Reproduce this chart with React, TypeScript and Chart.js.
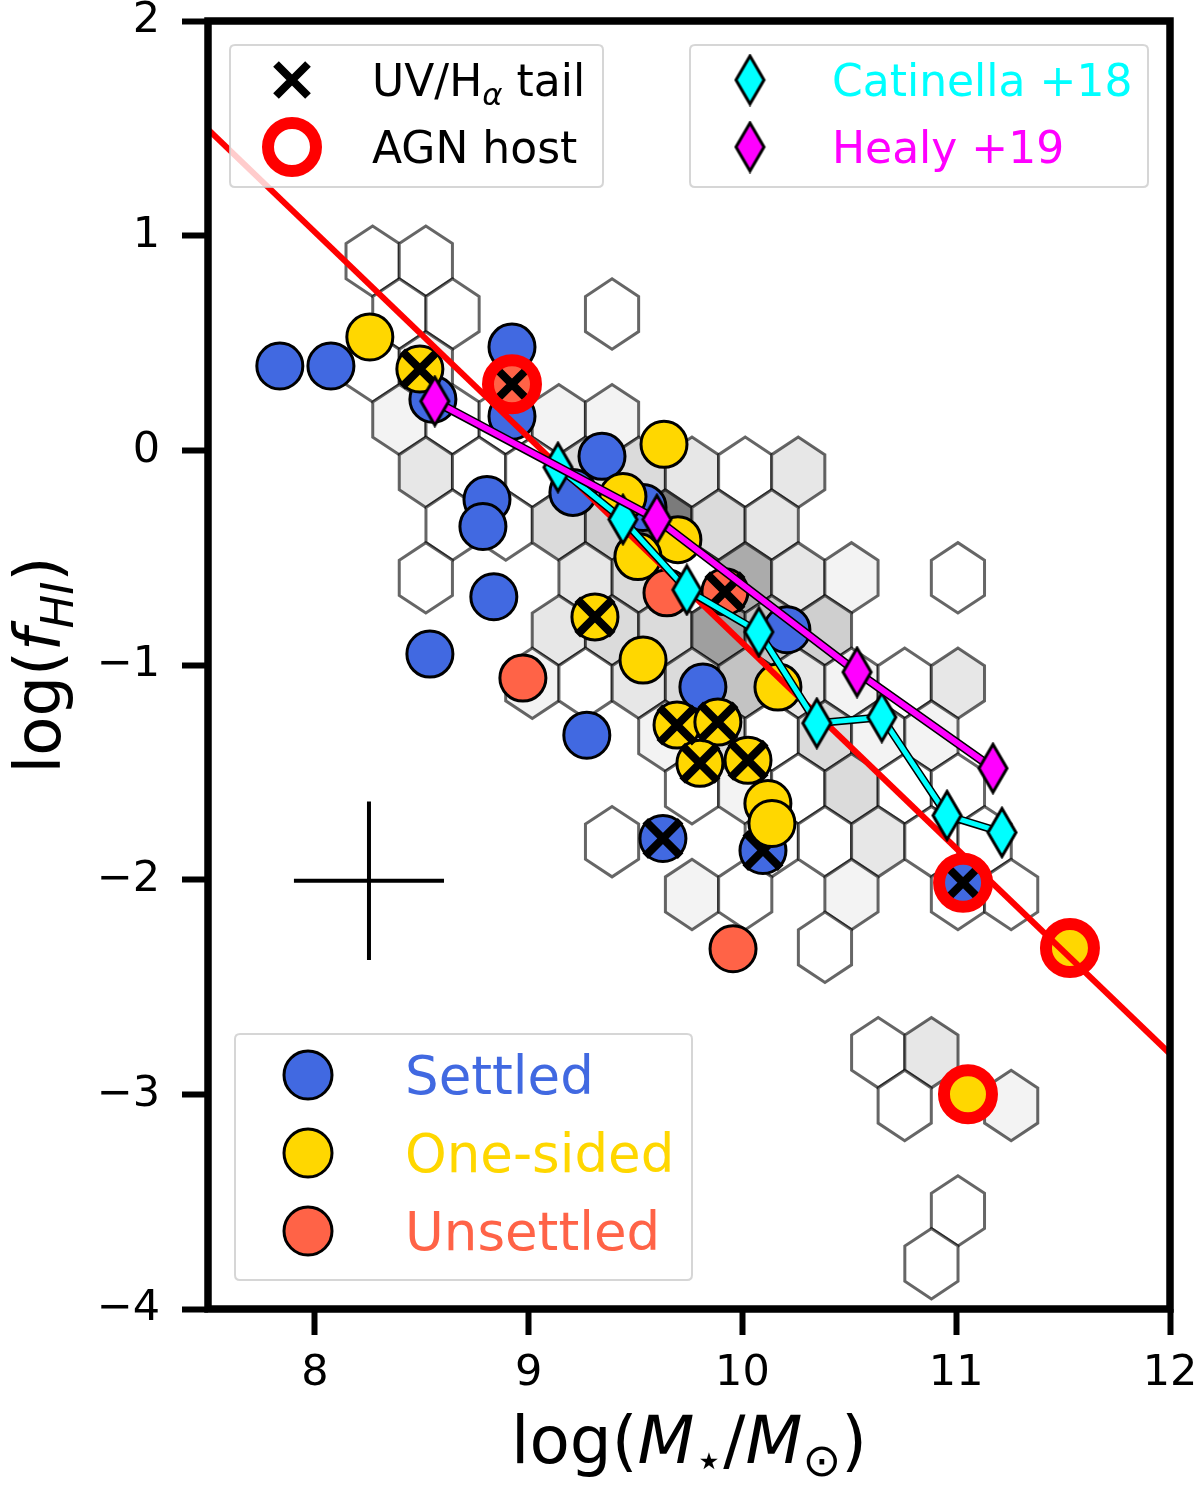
import React, { useEffect, useRef } from "react";
import { Chart, registerables } from "chart.js";
Chart.register(...registerables);

const FONT = '"DejaVu Sans", "Liberation Sans", sans-serif';

// axes
const xMin = 7.5;
const xMax = 12;
const yMin = -4;
const yMax = 2;
const xTickValues = [8, 9, 10, 11, 12];
const yTickValues = [-4, -3, -2, -1, 0, 1, 2];

// hexbin background (bin centres and counts)
const hexHalfWidth = 0.1244;
const hexRowStep = 0.2458;
const hexX = [
  8.270, 8.519,
  8.395, 8.644, 9.390,
  8.270, 8.519,
  8.395, 8.644, 8.893, 9.141, 9.390,
  8.519, 8.768, 9.017, 9.266, 9.515, 9.764, 10.013, 10.261,
  8.644, 8.893, 9.141, 9.390, 9.639, 9.888, 10.137,
  8.519, 9.266, 9.515, 9.764, 10.013, 10.261, 10.510, 11.008,
  9.141, 9.390, 9.639, 9.888, 10.137, 10.386,
  9.017, 9.266, 9.515, 9.764, 10.013, 10.261, 10.510, 10.759, 11.008,
  9.639, 9.888, 10.137, 10.386, 10.635, 10.884,
  9.764, 10.013, 10.261, 10.510, 10.759, 11.008,
  9.390, 10.137, 10.386, 10.635, 10.884, 11.133,
  9.764, 10.013, 10.510, 11.008, 11.257,
  10.386,
  10.635, 10.884,
  10.759, 11.257,
  11.008,
  10.884,
];
const hexY = [
  0.881, 0.881,
  0.635, 0.635, 0.635,
  0.389, 0.389,
  0.143, 0.143, 0.143, 0.143, 0.143,
  -0.102, -0.102, -0.102, -0.102, -0.102, -0.102, -0.102, -0.102,
  -0.348, -0.348, -0.348, -0.348, -0.348, -0.348, -0.348,
  -0.594, -0.594, -0.594, -0.594, -0.594, -0.594, -0.594, -0.594,
  -0.840, -0.840, -0.840, -0.840, -0.840, -0.840,
  -1.085, -1.085, -1.085, -1.085, -1.085, -1.085, -1.085, -1.085, -1.085,
  -1.331, -1.331, -1.331, -1.331, -1.331, -1.331,
  -1.577, -1.577, -1.577, -1.577, -1.577, -1.577,
  -1.823, -1.823, -1.823, -1.823, -1.823, -1.823,
  -2.069, -2.069, -2.069, -2.069, -2.069,
  -2.315,
  -2.806, -2.806,
  -3.052, -3.052,
  -3.543,
  -3.789,
];
const hexCount = [
  1, 1,
  1, 1, 1,
  1, 2,
  2, 1, 1, 2, 2,
  3, 1, 1, 4, 4, 3, 1, 3,
  1, 1, 4, 5, 12, 4, 3,
  1, 3, 4, 1, 8, 3, 2, 1,
  3, 4, 4, 9, 6, 5,
  2, 1, 3, 4, 6, 3, 2, 1, 3,
  2, 4, 1, 4, 2, 2,
  1, 2, 1, 4, 1, 1,
  1, 1, 1, 3, 1, 1,
  2, 1, 2, 1, 1,
  1,
  1, 3,
  1, 2,
  1,
  1,
];

// Settled galaxies
const settledX = [7.836, 8.075, 8.552, 8.922, 8.922, 8.805, 8.786, 8.837, 8.538, 9.343, 9.207, 9.272, 9.815, 10.208, 9.535, 9.628, 10.096, 11.032];
const settledY = [0.393, 0.393, 0.238, 0.481, 0.159, -0.229, -0.355, -0.682, -0.949, -0.028, -0.196, -1.327, -1.103, -0.836, -0.266, -1.808, -1.864, -2.014];
const settledTail = [0, 0, 0, 0, 0, 0, 0, 0, 0, 0, 0, 0, 0, 0, 0, 1, 1, 1];
const settledAGN = [0, 0, 0, 0, 0, 0, 0, 0, 0, 0, 0, 0, 0, 0, 0, 0, 0, 1];

// One-sided galaxies
const oneSidedX = [8.257, 8.491, 9.633, 9.441, 9.698, 9.511, 9.310, 9.535, 10.166, 9.694, 9.885, 9.801, 10.026, 10.119, 10.138, 11.532, 11.055];
const oneSidedY = [0.528, 0.379, 0.028, -0.215, -0.416, -0.495, -0.776, -0.977, -1.103, -1.280, -1.266, -1.458, -1.444, -1.645, -1.738, -2.318, -3.0];
const oneSidedTail = [0, 1, 0, 0, 0, 0, 1, 0, 0, 1, 1, 1, 1, 0, 0, 0, 0];
const oneSidedAGN = [0, 0, 0, 0, 0, 0, 0, 0, 0, 0, 0, 0, 0, 0, 0, 1, 1];

// Unsettled galaxies
const unsettledX = [8.922, 9.647, 9.918, 8.973, 9.956];
const unsettledY = [0.308, -0.664, -0.659, -1.061, -2.322];
const unsettledTail = [1, 0, 1, 0, 0];
const unsettledAGN = [1, 0, 0, 0, 0];

// scaling relations
const catinellaX = [9.137, 9.441, 9.740, 10.077, 10.348, 10.652, 10.957, 11.214];
const catinellaY = [-0.079, -0.322, -0.650, -0.846, -1.271, -1.243, -1.701, -1.780];
const healyX = [8.561, 9.600, 10.536, 11.172];
const healyY = [0.229, -0.322, -1.033, -1.481];

// fit line
const fitX = [7.5, 12];
const fitY = [1.495, -2.811];

// typical error bar
const errX = 8.253;
const errY = -2.005;
const errDX = 0.351;
const errDY = 0.369;

const BLUE = "#4169E1";
const GOLD = "#FFD700";
const TOMATO = "#FF6347";
const CYAN = "#00FFFF";
const MAGENTA = "#FF00FF";

type Seg = { t: string; it?: boolean; sub?: boolean };

function drawRich(ctx: CanvasRenderingContext2D, segs: Seg[], x: number, y: number, size: number, color: string, align: "left" | "center") {
  const fontFor = (s: Seg) => `${s.it ? "italic " : ""}${s.sub ? size * 0.7 : size}px ${FONT}`;
  let total = 0;
  const widths = segs.map((s) => {
    ctx.font = fontFor(s);
    const w = ctx.measureText(s.t).width;
    total += w;
    return w;
  });
  let cx = align === "center" ? x - total / 2 : x;
  ctx.fillStyle = color;
  ctx.textAlign = "left";
  ctx.textBaseline = "alphabetic";
  segs.forEach((s, i) => {
    ctx.font = fontFor(s);
    ctx.fillText(s.t, cx, y + (s.sub ? size * 0.2 : 0));
    cx += widths[i];
  });
}

function makeDiamond(fill: string): HTMLCanvasElement {
  const hw = 14, hh = 24, lw = 3;
  const c = document.createElement("canvas");
  c.width = Math.ceil(2 * hw + lw + 2);
  c.height = Math.ceil(2 * hh + lw + 2);
  const g = c.getContext("2d")!;
  const cx = c.width / 2, cy = c.height / 2;
  g.beginPath();
  g.moveTo(cx, cy - hh);
  g.lineTo(cx + hw, cy);
  g.lineTo(cx, cy + hh);
  g.lineTo(cx - hw, cy);
  g.closePath();
  g.fillStyle = fill;
  g.fill();
  g.lineWidth = lw;
  g.lineJoin = "miter";
  g.strokeStyle = "#000";
  g.stroke();
  return c;
}

function roundRect(ctx: CanvasRenderingContext2D, x: number, y: number, w: number, h: number, r: number) {
  ctx.beginPath();
  ctx.moveTo(x + r, y);
  ctx.lineTo(x + w - r, y);
  ctx.quadraticCurveTo(x + w, y, x + w, y + r);
  ctx.lineTo(x + w, y + h - r);
  ctx.quadraticCurveTo(x + w, y + h, x + w - r, y + h);
  ctx.lineTo(x + r, y + h);
  ctx.quadraticCurveTo(x, y + h, x, y + h - r);
  ctx.lineTo(x, y + r);
  ctx.quadraticCurveTo(x, y, x + r, y);
  ctx.closePath();
}

function legendBox(ctx: CanvasRenderingContext2D, x: number, y: number, w: number, h: number) {
  roundRect(ctx, x, y, w, h, 5);
  ctx.fillStyle = "rgba(255,255,255,0.8)";
  ctx.fill();
  ctx.lineWidth = 2;
  ctx.strokeStyle = "rgba(204,204,204,0.8)";
  ctx.stroke();
}

const pts = (xs: number[], ys: number[]) => xs.map((x, i) => ({ x, y: ys[i] }));
const pick = (xs: number[], ys: number[], flags: number[]) =>
  xs.map((x, i) => ({ x, y: ys[i] })).filter((_, i) => flags[i] === 1);
const fmtTick = (v: number) => (v < 0 ? "\u2212" + Math.abs(v) : String(v));

export default function App() {
  const ref = useRef<HTMLCanvasElement | null>(null);

  useEffect(() => {
    if (!ref.current) return;
    const cyanDiamond = makeDiamond(CYAN);
    const magentaDiamond = makeDiamond(MAGENTA);

    const hexPlugin = {
      id: "hexbin",
      beforeDatasetsDraw(chart: any) {
        const { ctx, chartArea: a, scales } = chart;
        const xs = scales.x, ys = scales.y;
        ctx.save();
        ctx.beginPath();
        ctx.rect(a.left, a.top, a.right - a.left, a.bottom - a.top);
        ctx.clip();
        hexX.forEach((cx, i) => {
          const cy = hexY[i];
          const hw = hexHalfWidth, s = hexRowStep;
          const verts = [
            [cx + hw, cy + s / 3], [cx, cy + (2 * s) / 3], [cx - hw, cy + s / 3],
            [cx - hw, cy - s / 3], [cx, cy - (2 * s) / 3], [cx + hw, cy - s / 3],
          ];
          ctx.beginPath();
          verts.forEach(([vx, vy], k) => {
            const X = xs.getPixelForValue(vx), Y = ys.getPixelForValue(vy);
            if (k === 0) ctx.moveTo(X, Y); else ctx.lineTo(X, Y);
          });
          ctx.closePath();
          const g = Math.max(0, Math.round(255 - 12 * (hexCount[i] - 1)));
          ctx.fillStyle = `rgb(${g},${g},${g})`;
          ctx.fill();
          ctx.lineWidth = 3;
          ctx.strokeStyle = "rgba(0,0,0,0.6)";
          ctx.stroke();
        });
        ctx.restore();
      },
    };

    const decorPlugin = {
      id: "decor",
      afterDraw(chart: any) {
        const { ctx, chartArea: a } = chart;
        ctx.save();
        // frame
        ctx.lineWidth = 7.5;
        ctx.strokeStyle = "#000";
        ctx.strokeRect(a.left, a.top, a.right - a.left, a.bottom - a.top);

        // top-left legend
        legendBox(ctx, 230, 45, 373, 142);
        ctx.lineWidth = 8;
        ctx.strokeStyle = "#000";
        ctx.lineCap = "butt";
        ctx.beginPath();
        ctx.moveTo(292 - 16, 80 - 16); ctx.lineTo(292 + 16, 80 + 16);
        ctx.moveTo(292 - 16, 80 + 16); ctx.lineTo(292 + 16, 80 - 16);
        ctx.stroke();
        ctx.beginPath();
        ctx.arc(292, 147, 24, 0, Math.PI * 2);
        ctx.lineWidth = 12;
        ctx.strokeStyle = "#FF0000";
        ctx.stroke();
        drawRich(ctx, [{ t: "UV/H" }, { t: "\u03b1", it: true, sub: true }, { t: " tail" }], 372, 96, 44, "#000", "left");
        drawRich(ctx, [{ t: "AGN host" }], 372, 163, 44, "#000", "left");

        // top-right legend
        legendBox(ctx, 690, 45, 458, 142);
        ctx.drawImage(cyanDiamond, 750 - cyanDiamond.width / 2, 80 - cyanDiamond.height / 2);
        ctx.drawImage(magentaDiamond, 750 - magentaDiamond.width / 2, 147 - magentaDiamond.height / 2);
        drawRich(ctx, [{ t: "Catinella +18" }], 832, 96, 44, CYAN, "left");
        drawRich(ctx, [{ t: "Healy +19" }], 832, 163, 44, MAGENTA, "left");

        // bottom legend
        legendBox(ctx, 235, 1034, 457, 246);
        const items: [string, string, number][] = [
          ["Settled", BLUE, 1075],
          ["One-sided", GOLD, 1153],
          ["Unsettled", TOMATO, 1231],
        ];
        items.forEach(([label, col, yy]) => {
          ctx.beginPath();
          ctx.arc(308, yy, 24, 0, Math.PI * 2);
          ctx.fillStyle = col;
          ctx.fill();
          ctx.lineWidth = 3;
          ctx.strokeStyle = "#000";
          ctx.stroke();
          drawRich(ctx, [{ t: label }], 405, yy + 19, 53, col, "left");
        });

        // axis titles
        const cxm = (a.left + a.right) / 2;
        drawRich(
          ctx,
          [{ t: "log(" }, { t: "M", it: true }, { t: "\u22c6", sub: true }, { t: "/" }, { t: "M", it: true }, { t: "\u2299", sub: true }, { t: ")" }],
          cxm, 1463, 66, "#000", "center"
        );
        ctx.save();
        ctx.translate(60, (a.top + a.bottom) / 2);
        ctx.rotate(-Math.PI / 2);
        drawRich(ctx, [{ t: "log(" }, { t: "f", it: true }, { t: "HI", it: true, sub: true }, { t: ")" }], 0, 0, 64, "#000", "center");
        ctx.restore();
        ctx.restore();
      },
    };

    const circleDs = (data: any[], color: string, order: number) => ({
      data, order, pointStyle: "circle", pointRadius: 23, pointHoverRadius: 23,
      backgroundColor: color, borderColor: "#000", borderWidth: 3, showLine: false,
    });
    const crossDs = (data: any[], order: number) => ({
      data, order, pointStyle: "crossRot", pointRadius: 25, pointHoverRadius: 25,
      borderColor: "#000", backgroundColor: "#000", borderWidth: 8, showLine: false,
    });

    const agnPts = [
      ...pick(settledX, settledY, settledAGN),
      ...pick(oneSidedX, oneSidedY, oneSidedAGN),
      ...pick(unsettledX, unsettledY, unsettledAGN),
    ];

    const zeroPad = (axis: any) => {
      axis.paddingTop = 0;
      axis.paddingBottom = 0;
      axis.paddingLeft = 0;
      axis.paddingRight = 0;
    };

    const chart = new Chart(ref.current, {
      type: "scatter",
      data: {
        datasets: [
          circleDs(pts(settledX, settledY), BLUE, 12),
          crossDs(pick(settledX, settledY, settledTail), 11),
          circleDs(pts(oneSidedX, oneSidedY), GOLD, 10),
          crossDs(pick(oneSidedX, oneSidedY, oneSidedTail), 9),
          circleDs(pts(unsettledX, unsettledY), TOMATO, 8),
          crossDs(pick(unsettledX, unsettledY, unsettledTail), 7),
          {
            data: agnPts, order: 6, pointStyle: "circle", pointRadius: 24, pointHoverRadius: 24,
            backgroundColor: "rgba(0,0,0,0)", borderColor: "#FF0000", borderWidth: 12, showLine: false,
          },
          {
            data: pts(fitX, fitY), order: 5, showLine: true, pointRadius: 0, borderColor: "#FF0000", borderWidth: 6,
          },
          {
            data: pts(catinellaX, catinellaY), order: 4, showLine: true, pointRadius: 0, borderColor: "#000", borderWidth: 8,
          },
          {
            data: pts(catinellaX, catinellaY), order: 3, showLine: true, pointRadius: 12, pointHoverRadius: 12,
            pointStyle: cyanDiamond as any, borderColor: CYAN, backgroundColor: CYAN, borderWidth: 5,
          },
          {
            data: pts(healyX, healyY), order: 2, showLine: true, pointRadius: 0, borderColor: "#000", borderWidth: 9,
          },
          {
            data: pts(healyX, healyY), order: 1, showLine: true, pointRadius: 12, pointHoverRadius: 12,
            pointStyle: magentaDiamond as any, borderColor: MAGENTA, backgroundColor: MAGENTA, borderWidth: 6,
          },
          {
            data: [{ x: errX - errDX, y: errY }, { x: errX + errDX, y: errY }], order: 0, showLine: true,
            pointRadius: 0, borderColor: "#000", borderWidth: 4,
          },
          {
            data: [{ x: errX, y: errY - errDY }, { x: errX, y: errY + errDY }], order: 0, showLine: true,
            pointRadius: 0, borderColor: "#000", borderWidth: 4,
          },
        ] as any,
      },
      options: {
        animation: false,
        responsive: false,
        maintainAspectRatio: false,
        devicePixelRatio: 1,
        layout: { autoPadding: false, padding: { left: 0, right: 30, top: 21, bottom: 0 } },
        plugins: { legend: { display: false }, tooltip: { enabled: false } },
        events: [],
        scales: {
          x: {
            type: "linear", min: xMin, max: xMax,
            afterBuildTicks: (axis: any) => { axis.ticks = xTickValues.map((v) => ({ value: v })); },
            afterFit: (axis: any) => { axis.height = 180; zeroPad(axis); },
            border: { display: false },
            grid: { display: true, drawOnChartArea: false, drawTicks: true, tickLength: 26, tickWidth: 6, tickColor: "#000" },
            ticks: { color: "#000", font: { family: FONT, size: 43 }, padding: 13, autoSkip: false, maxRotation: 0, callback: (v: any) => fmtTick(Number(v)) },
          },
          y: {
            type: "linear", min: yMin, max: yMax,
            afterBuildTicks: (axis: any) => { axis.ticks = yTickValues.map((v) => ({ value: v })); },
            afterFit: (axis: any) => { axis.width = 208; zeroPad(axis); },
            border: { display: false },
            grid: { display: true, drawOnChartArea: false, drawTicks: true, tickLength: 26, tickWidth: 6, tickColor: "#000" },
            ticks: { color: "#000", font: { family: FONT, size: 43 }, padding: 22, autoSkip: false, callback: (v: any) => fmtTick(Number(v)) },
          },
        },
      } as any,
      plugins: [hexPlugin, decorPlugin],
    });
    return () => chart.destroy();
  }, []);

  return (
    <div style={{ position: "absolute", left: 0, top: 0, width: 1200, height: 1489, background: "#fff" }}>
      <canvas ref={ref} width={1200} height={1489} style={{ display: "block", width: 1200, height: 1489 }} />
    </div>
  );
}
